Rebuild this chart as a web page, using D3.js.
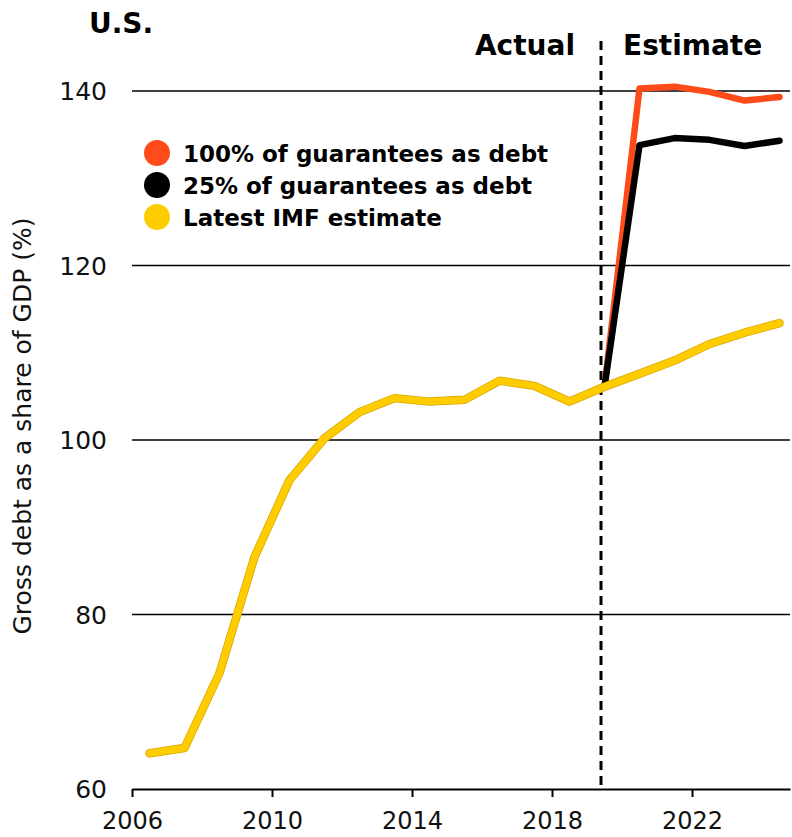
<!DOCTYPE html>
<html>
<head>
<meta charset="utf-8">
<script src="https://cdn.jsdelivr.net/npm/d3@7"></script>
<style>
  html, body { margin: 0; padding: 0; background: #fff; }
  svg { display: block; }
</style>
</head>
<body>
<svg id="chart" width="792" height="837"></svg>
<script>
// ---------- data ----------
const actualYears = [2006, 2007, 2008, 2009, 2010, 2011, 2012, 2013, 2014, 2015, 2016, 2017, 2018, 2019, 2020, 2021, 2022, 2023, 2024];
const imfValues   = [64.1, 64.7, 73.3, 86.6, 95.4, 100.2, 103.2, 104.8, 104.4, 104.6, 106.8, 106.2, 104.4, 106.1, 107.6, 109.1, 111.0, 112.3, 113.4];
const estYears    = [2019, 2020, 2021, 2022, 2023, 2024];
const full100     = [106.1, 140.3, 140.5, 139.9, 138.9, 139.3];
const part25      = [106.1, 133.8, 134.6, 134.4, 133.7, 134.3];
const yTicks      = [60, 80, 100, 120, 140];
const xTicks      = [2006, 2010, 2014, 2018, 2022];
const dividerYear = 2019.4;
const legendLabels = ["100% of guarantees as debt", "25% of guarantees as debt", "Latest IMF estimate"];
const colors = { red: "#FF4B19", black: "#000000", yellow: "#FFCC00" };

// ---------- layout ----------
const svg = d3.select("#chart");
const x = d3.scaleLinear().domain([2006, 2024.8]).range([132, 790]);
const y = d3.scaleLinear().domain([60, 140]).range([789, 91]);
const fx = yr => x(yr + 0.5);

const normalFont = "'DejaVu Sans', sans-serif";
const boldFont = "'DejaVu Sans', sans-serif";

// gridlines
svg.append("g")
  .selectAll("line")
  .data(yTicks.filter(d => d > 60))
  .join("line")
  .attr("x1", x.range()[0]).attr("x2", x.range()[1])
  .attr("y1", d => y(d)).attr("y2", d => y(d))
  .attr("stroke", "#000").attr("stroke-width", 1.6);

// y tick labels
svg.append("g")
  .selectAll("text")
  .data(yTicks)
  .join("text")
  .attr("x", 107).attr("y", d => y(d))
  .attr("dy", "0.36em")
  .attr("text-anchor", "end")
  .attr("font-family", normalFont)
  .attr("font-size", 25)
  .attr("fill", "#111")
  .text(d => d);

// x axis
const xAxis = d3.axisBottom(x).tickValues(xTicks).tickFormat(d3.format("d")).tickSize(8).tickSizeOuter(0);
const gx = svg.append("g").attr("transform", `translate(0,${y(60)})`).call(xAxis);
gx.select(".domain").attr("stroke", "#000").attr("stroke-width", 2);
gx.selectAll(".tick line").attr("stroke", "#000").attr("stroke-width", 2);
gx.selectAll(".tick text")
  .attr("font-family", normalFont).attr("font-size", 24).attr("fill", "#111")
  .attr("y", 40).attr("dy", "0");

// y axis title
svg.append("text")
  .attr("transform", `translate(31,${426}) rotate(-90)`)
  .attr("text-anchor", "middle")
  .attr("font-family", normalFont)
  .attr("font-size", 25)
  .attr("fill", "#111")
  .text("Gross debt as a share of GDP (%)");

// divider
svg.append("line")
  .attr("x1", x(dividerYear)).attr("x2", x(dividerYear))
  .attr("y1", 41).attr("y2", y(60))
  .attr("stroke", "#000").attr("stroke-width", 3)
  .attr("stroke-dasharray", "9,6");

// labels
svg.append("text").attr("x", x(dividerYear) - 26).attr("y", 55)
  .attr("text-anchor", "end").attr("font-family", boldFont).attr("font-weight", 700)
  .attr("font-size", 28).attr("fill", "#000").text("Actual");
svg.append("text").attr("x", x(dividerYear) + 22).attr("y", 55)
  .attr("text-anchor", "start").attr("font-family", boldFont).attr("font-weight", 700)
  .attr("font-size", 28).attr("fill", "#000").text("Estimate");
svg.append("text").attr("x", 89).attr("y", 33)
  .attr("font-family", boldFont).attr("font-weight", 700)
  .attr("font-size", 28).attr("fill", "#000").text("U.S.");

// lines
const line = d3.line().x(d => fx(d[0])).y(d => y(d[1]));
const estRed = estYears.map((yr, i) => [yr, full100[i]]);
const estBlack = estYears.map((yr, i) => [yr, part25[i]]);
const imf = actualYears.map((yr, i) => [yr, imfValues[i]]);

svg.append("path").datum(estRed).attr("d", line)
  .attr("fill", "none").attr("stroke", colors.red).attr("stroke-width", 6.5)
  .attr("stroke-linejoin", "round").attr("stroke-linecap", "round");
svg.append("path").datum(estBlack).attr("d", line)
  .attr("fill", "none").attr("stroke", colors.black).attr("stroke-width", 6.5)
  .attr("stroke-linejoin", "round").attr("stroke-linecap", "round");
svg.append("path").datum(imf).attr("d", line)
  .attr("fill", "none").attr("stroke", "#D9A600").attr("stroke-width", 8.5)
  .attr("stroke-linejoin", "round").attr("stroke-linecap", "round");
svg.append("path").datum(imf).attr("d", line)
  .attr("fill", "none").attr("stroke", colors.yellow).attr("stroke-width", 7)
  .attr("stroke-linejoin", "round").attr("stroke-linecap", "round");

// legend
const legendColors = [colors.red, colors.black, colors.yellow];
const lg = svg.append("g");
const rows = lg.selectAll("g").data(legendLabels).join("g")
  .attr("transform", (d, i) => `translate(157,${153 + i * 32})`);
rows.append("circle").attr("r", 13).attr("fill", (d, i) => legendColors[i]);
rows.append("text").attr("x", 26).attr("y", 9)
  .attr("font-family", boldFont).attr("font-weight", 700)
  .attr("font-size", 23).attr("fill", "#000")
  .text(d => d);
</script>
</body>
</html>
